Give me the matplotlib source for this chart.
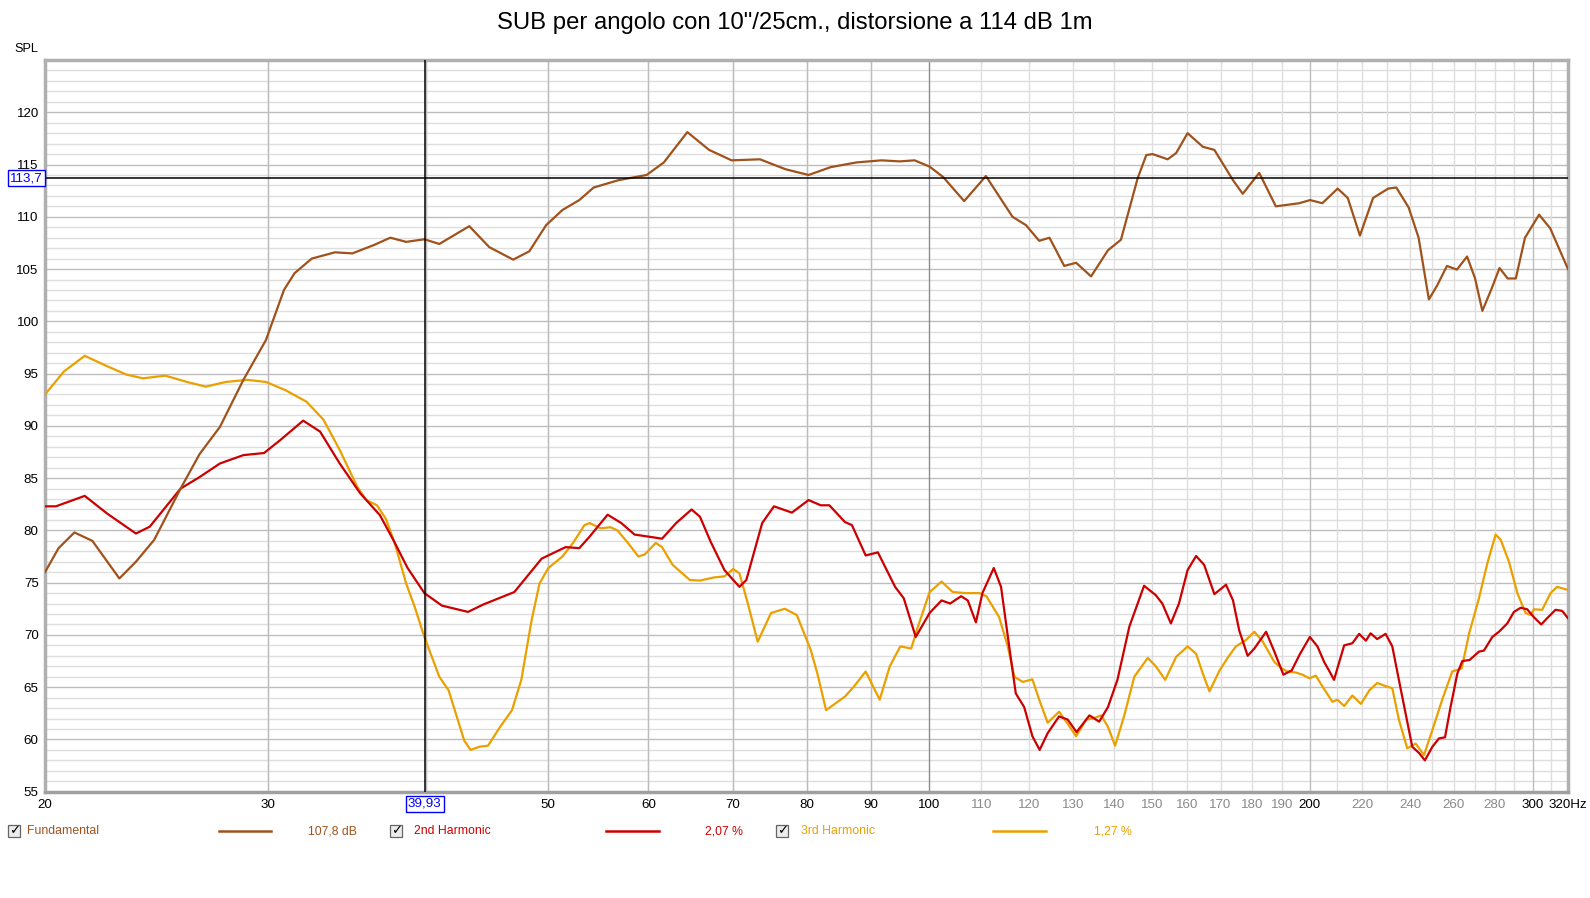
import matplotlib.pyplot as plt
from matplotlib.patches import Rectangle
from matplotlib.lines import Line2D
from matplotlib.ticker import NullLocator, NullFormatter

plt.rcParams['font.family'] = ['Liberation Sans', 'DejaVu Sans']

# Fundamental (dB SPL)
freq_fund = [20.0, 20.5, 21.1, 21.8, 22.9, 23.6, 24.4, 25.6, 26.5, 27.5, 28.7, 29.9, 30.9,
             31.5, 32.5, 33.9, 35.0, 36.4, 37.5, 38.6, 39.9, 41.0, 43.3, 44.9, 46.9, 48.3,
             49.8, 51.3, 52.9, 54.3, 56.8, 59.8, 61.7, 64.4, 67.0, 69.8, 73.5, 77.0, 80.3,
             83.6, 87.6, 91.7, 94.8, 97.4, 100.1, 102.6, 106.6, 110.9, 116.4, 119.3, 122.2,
             124.5, 127.9, 130.7, 134.3, 138.5, 141.8, 146.2, 148.5, 150.2, 154.4, 156.8,
             160.1, 164.6, 168.1, 173.9, 177.0, 182.4, 188.0, 196.2, 200.1, 204.6, 210.4,
             214.3, 219.1, 224.4, 230.7, 234.1, 239.4, 243.8, 248.4, 252.1, 256.7, 261.4,
             266.3, 270.2, 273.8, 278.4, 282.5, 286.7, 291.0, 295.9, 303.6, 309.8, 320.0]
spl_fund = [76.0, 78.3, 79.8, 79.0, 75.4, 77.0, 79.1, 84.0, 87.3, 89.9, 94.4, 98.2, 103.0,
            104.6, 106.0, 106.6, 106.5, 107.3, 108.0, 107.6, 107.85, 107.4, 109.1, 107.1,
            105.9, 106.7, 109.2, 110.65, 111.6, 112.8, 113.5, 114.0, 115.2, 118.1, 116.4,
            115.4, 115.5, 114.55, 114.0, 114.75, 115.2, 115.4, 115.3, 115.4, 114.8, 113.8,
            111.5, 113.9, 110.0, 109.2, 107.7, 108.0, 105.3, 105.6, 104.3, 106.8, 107.8,
            113.7, 115.9, 116.0, 115.5, 116.1, 118.0, 116.7, 116.4, 113.5, 112.2, 114.2,
            111.0, 111.3, 111.6, 111.3, 112.7, 111.8, 108.2, 111.8, 112.7, 112.8, 110.9,
            108.0, 102.1, 103.4, 105.3, 104.95, 106.2, 104.1, 101.0, 103.1, 105.1, 104.1,
            104.1, 108.0, 110.2, 108.9, 105.0]

# 2nd harmonic
freq_h2 = [20.0, 20.4, 21.5, 22.4, 23.6, 24.2, 25.6, 26.5, 27.5, 28.7, 29.8, 30.7, 32.0,
           33.0, 34.2, 35.5, 36.8, 37.7, 38.7, 39.9, 41.2, 43.2, 44.4, 47.0, 49.4, 51.6,
           52.9, 53.9, 55.7, 57.1, 58.5, 60.8, 61.5, 63.1, 64.9, 65.9, 67.2, 68.9, 70.8,
           71.7, 73.8, 75.4, 77.9, 80.3, 82.1, 83.4, 85.8, 86.9, 89.1, 91.1, 94.0, 95.5,
           97.6, 100.1, 102.3, 103.9, 106.0, 107.3, 108.9, 110.2, 112.5, 114.0, 115.7,
           117.1, 118.9, 120.7, 122.3, 124.1, 126.7, 128.7, 130.8, 133.9, 136.3, 138.5,
           140.9, 144.0, 147.9, 151.1, 152.9, 155.3, 157.6, 160.1, 162.6, 165.0, 168.1,
           171.7, 173.9, 175.9, 178.6, 180.8, 184.7, 187.5, 190.6, 193.5, 196.5, 200.0,
           202.8, 205.3, 207.1, 209.0, 212.9, 216.1, 218.8, 221.5, 223.4, 226.1, 229.6,
           232.4, 235.2, 238.1, 241.0, 244.0, 246.6, 250.0, 253.0, 255.8, 258.4, 261.6,
           264.0, 267.5, 272.1, 274.6, 278.8, 282.2, 286.5, 290.0, 293.6, 297.1, 300.7,
           304.8, 308.1, 312.8, 316.6, 320.0]
spl_h2 = [82.3, 82.3, 83.3, 81.6, 79.7, 80.35, 84.0, 85.1, 86.4, 87.2, 87.4, 88.65, 90.5,
          89.45, 86.4, 83.55, 81.45, 79.1, 76.4, 74.0, 72.8, 72.2, 72.9, 74.1, 77.3, 78.4,
          78.3, 79.4, 81.5, 80.7, 79.6, 79.3, 79.2, 80.7, 82.0, 81.3, 78.9, 76.2, 74.6,
          75.25, 80.7, 82.3, 81.7, 82.9, 82.4, 82.4, 80.8, 80.5, 77.6, 77.9, 74.6, 73.5,
          69.8, 72.1, 73.3, 73.0, 73.7, 73.3, 71.2, 74.0, 76.4, 74.6, 68.9, 64.4, 63.1,
          60.3, 59.0, 60.6, 62.2, 61.9, 60.7, 62.3, 61.7, 63.1, 65.7, 70.8, 74.7, 73.8,
          73.0, 71.1, 73.0, 76.2, 77.55, 76.7, 73.9, 74.8, 73.3, 70.4, 68.0, 68.7, 70.3,
          68.4, 66.2, 66.6, 68.2, 69.8, 68.9, 67.4, 66.6, 65.7, 69.0, 69.2, 70.1, 69.45,
          70.15, 69.6, 70.1, 68.9, 65.7, 62.5, 59.3, 58.7, 58.0, 59.3, 60.1, 60.2, 63.1,
          66.3, 67.5, 67.6, 68.4, 68.5, 69.8, 70.3, 71.1, 72.2, 72.6, 72.45, 71.7, 71.0,
          71.6, 72.4, 72.3, 71.6]

# 3rd harmonic
freq_h3 = [20.0, 20.7, 21.5, 22.4, 23.2, 23.9, 24.9, 25.9, 26.8, 27.8, 28.9, 29.9, 31.0,
           32.2, 33.2, 34.2, 35.3, 35.9, 36.6, 37.2, 37.8, 38.6, 39.2, 39.9, 41.0, 41.7,
           42.9, 43.4, 44.1, 44.8, 45.8, 46.8, 47.6, 48.5, 49.2, 50.0, 51.3, 52.3, 53.4,
           53.9, 55.0, 56.0, 56.7, 57.8, 58.9, 59.6, 60.8, 61.5, 62.7, 64.7, 65.9, 67.6,
           68.9, 70.0, 70.8, 71.9, 73.2, 75.0, 76.9, 78.6, 80.6, 81.6, 82.9, 85.8, 87.2,
           89.1, 91.4, 93.1, 94.9, 96.8, 98.0, 100.1, 102.3, 104.4, 106.9, 109.6, 111.0,
           113.6, 115.4, 116.8, 118.6, 120.7, 122.2, 124.1, 126.7, 128.7, 130.7, 133.1,
           134.7, 136.8, 138.5, 140.3, 142.6, 145.3, 148.9, 151.1, 153.7, 156.8, 160.1,
           162.6, 164.6, 166.6, 169.7, 172.2, 174.8, 178.0, 180.8, 183.6, 187.5, 190.0,
           192.0, 195.0, 197.3, 199.8, 202.2, 204.7, 208.4, 210.3, 212.9, 216.1, 219.5,
           222.9, 226.1, 229.6, 232.4, 235.2, 238.8, 242.5, 246.2, 250.0, 254.5, 259.2,
           263.7, 267.3, 272.1, 276.3, 280.5, 283.1, 287.4, 291.8, 296.2, 299.0, 300.7,
           305.3, 310.0, 313.7, 320.0]
spl_h3 = [93.0, 95.2, 96.7, 95.7, 94.9, 94.55, 94.8, 94.2, 93.75, 94.2, 94.4, 94.2, 93.4,
          92.3, 90.6, 87.7, 84.2, 82.9, 82.4, 81.1, 78.8, 74.9, 72.7, 69.8, 66.0, 64.7,
          59.9, 59.0, 59.3, 59.4, 61.2, 62.8, 65.7, 71.4, 74.9, 76.4, 77.5, 78.8, 80.5,
          80.7, 80.2, 80.3, 80.0, 78.8, 77.5, 77.7, 78.8, 78.4, 76.7, 75.25, 75.2, 75.5,
          75.6, 76.3, 75.9, 73.0, 69.35, 72.1, 72.5, 71.9, 68.6, 66.3, 62.8, 64.1, 65.05,
          66.5, 63.8, 67.0, 68.9, 68.7, 70.8, 74.1, 75.1, 74.1, 74.0, 74.0, 73.7, 71.7,
          68.9, 66.0, 65.5, 65.75, 63.8, 61.6, 62.65, 61.5, 60.3, 61.9, 62.0, 62.3, 61.2,
          59.4, 62.2, 66.0, 67.8, 67.0, 65.7, 67.9, 68.9, 68.2, 66.3, 64.6, 66.6, 67.8,
          68.9, 69.5, 70.3, 69.35, 67.4, 66.8, 66.5, 66.4, 66.2, 65.85, 66.1, 65.05, 63.6,
          63.8, 63.2, 64.2, 63.4, 64.7, 65.4, 65.1, 64.9, 61.9, 59.15, 59.6, 58.5, 60.9,
          63.8, 66.5, 66.8, 70.15, 73.5, 76.85, 79.6, 79.1, 77.0, 74.0, 72.1, 71.9, 72.45,
          72.4, 74.0, 74.6, 74.3]

series_names = ['Fundamental', '2nd Harmonic', '3rd Harmonic']
series_values = ['107,8 dB', '2,07 %', '1,27 %']
series_colors = ['#a0521c', '#cc0000', '#eba000']

xtick_freqs = [20, 30, 50, 60, 70, 80, 90, 100, 110, 120, 130, 140, 150, 160, 170, 180,
               190, 200, 220, 240, 260, 280, 300, 320]
xtick_labels = ['20', '30', '50', '60', '70', '80', '90', '100', '110', '120', '130', '140',
                '150', '160', '170', '180', '190', '200', '220', '240', '260', '280', '300',
                '320Hz']
xtick_dark = [20, 30, 50, 60, 70, 80, 90, 100, 200, 300, 320]
ytick_vals = [55, 60, 65, 70, 75, 80, 85, 90, 95, 100, 105, 110, 115, 120]

cursor_freq = 39.93
cursor_spl = 113.7

W, H = 1590, 898
fig = plt.figure(figsize=(W / 100, H / 100), dpi=100)
ax = fig.add_axes([45 / W, 1 - 791.7 / H, 1523 / W, 731.7 / H])
ax.set_xscale('log')
ax.set_xlim(20, 320)
ax.set_ylim(55, 125)

# grid
for y in range(56, 125):
    ax.axhline(y, color='#bdbdbd' if y % 5 == 0 else '#dedede', lw=1, zorder=0)
grid_freqs = list(range(30, 100, 10)) + list(range(110, 200, 10)) + list(range(210, 300, 10)) + [310]
for f in grid_freqs:
    ax.axvline(f, color='#dedede', lw=1, zorder=0.5)
for f in [30, 40, 50, 60, 70, 80, 90, 200, 300]:
    ax.axvline(f, color='#bdbdbd', lw=1, zorder=0.6)
ax.axvline(100, color='#8c8c8c', lw=1, zorder=0.7)

ax.plot(freq_h3, spl_h3, color=series_colors[2], lw=1.6, zorder=3, solid_joinstyle='round')
ax.plot(freq_h2, spl_h2, color=series_colors[1], lw=1.6, zorder=4, solid_joinstyle='round')
ax.plot(freq_fund, spl_fund, color=series_colors[0], lw=1.6, zorder=5, solid_joinstyle='round')

# cursor
ax.axvline(cursor_freq, color='black', lw=1.1, zorder=6)
ax.axhline(cursor_spl, color='black', lw=1.1, zorder=6)

ax.xaxis.set_minor_locator(NullLocator())
ax.xaxis.set_minor_formatter(NullFormatter())
ax.set_xticks(xtick_freqs)
ax.set_xticklabels(xtick_labels)
for lbl, f in zip(ax.get_xticklabels(), xtick_freqs):
    lbl.set_color('black' if f in xtick_dark else '#8a8a8a')
ax.set_yticks(ytick_vals)
ax.set_yticklabels([str(v) for v in ytick_vals])
ax.tick_params(axis='both', length=0, labelsize=9.6)
ax.tick_params(axis='x', pad=5.5)
ax.tick_params(axis='y', pad=4.5)

for side in ['left', 'top', 'right', 'bottom']:
    ax.spines[side].set_color('#b0b0b0')
    ax.spines[side].set_linewidth(2.5)
ax.spines['bottom'].set_color('#a0a0a0')

# cursor readouts
ax.text(cursor_freq, -0.0165, '39,93', transform=ax.get_xaxis_transform(), ha='center',
        va='center', fontsize=9.6, color='#0000ff', zorder=10,
        bbox=dict(boxstyle='square,pad=0.15', fc='white', ec='#0000ff', lw=1))
ax.text(-0.0015, cursor_spl, '113,7', transform=ax.get_yaxis_transform(), ha='right',
        va='center', fontsize=9.6, color='#0000ff', zorder=10, clip_on=False,
        bbox=dict(boxstyle='square,pad=0.15', fc='white', ec='#0000ff', lw=1))

fig.text(38 / W, 1 - 49 / H, 'SPL', ha='right', va='center', fontsize=9.2)
fig.text(0.4997, 1 - 22.5 / H, 'SUB per angolo con 10"/25cm., distorsione a 114 dB 1m',
         ha='center', va='center', fontsize=17.2)

# legend row
leg_y = 1 - 831 / H
box_x = [8, 390, 776]
text_x = [27, 414, 801]
line_x = [(219, 271), (606, 659), (993, 1046)]
val_x = [308, 705, 1094]
for i in range(3):
    fig.add_artist(Rectangle((box_x[i] / W, 1 - 837 / H), 12 / W, 12 / H,
                             transform=fig.transFigure, fc='#ececec', ec='#666666', lw=0.9))
    fig.text((box_x[i] + 6.5) / W, leg_y + 0.5 / H, '\u2713', ha='center', va='center',
             fontsize=9.5, family='DejaVu Sans', fontweight='bold', color='black')
    fig.text(text_x[i] / W, leg_y, series_names[i], ha='left', va='center', fontsize=8.8,
             color=series_colors[i])
    fig.add_artist(Line2D([line_x[i][0] / W, line_x[i][1] / W], [leg_y, leg_y],
                          transform=fig.transFigure, color=series_colors[i], lw=1.8))
    fig.text(val_x[i] / W, leg_y, series_values[i], ha='left', va='center', fontsize=8.8,
             color=series_colors[i])

fig.savefig('out.png', dpi=100, facecolor='white')
